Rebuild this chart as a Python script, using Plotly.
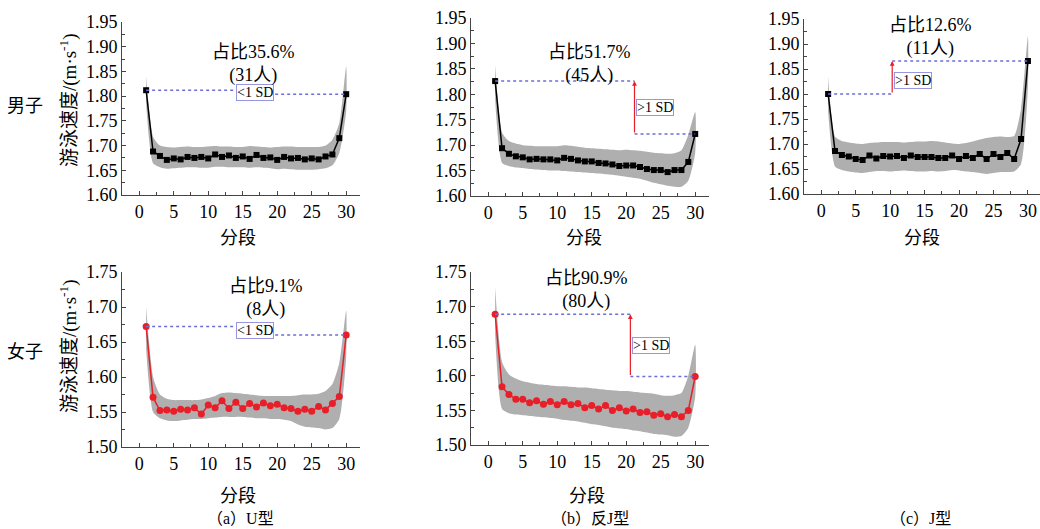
import plotly.graph_objects as go

W, H = 1040, 529
seg = list(range(1, 31))

# ---- data ----
m_u_mean = [1.812, 1.688, 1.679, 1.671, 1.674, 1.672, 1.677, 1.675, 1.677, 1.674,
            1.682, 1.677, 1.680, 1.675, 1.678, 1.673, 1.681, 1.675, 1.676, 1.671,
            1.677, 1.674, 1.675, 1.672, 1.674, 1.672, 1.678, 1.682, 1.715, 1.804]
m_u_upper = [1.840, 1.718, 1.700, 1.697, 1.696, 1.697, 1.698, 1.697, 1.697, 1.698,
             1.699, 1.698, 1.698, 1.697, 1.697, 1.699, 1.698, 1.697, 1.696, 1.697,
             1.698, 1.698, 1.697, 1.697, 1.697, 1.697, 1.700, 1.712, 1.745, 1.860]
m_u_lower = [1.785, 1.664, 1.656, 1.653, 1.654, 1.655, 1.656, 1.656, 1.655, 1.655,
             1.657, 1.657, 1.656, 1.656, 1.656, 1.655, 1.656, 1.655, 1.654, 1.652,
             1.653, 1.652, 1.651, 1.651, 1.651, 1.652, 1.654, 1.660, 1.685, 1.770]

m_rj_mean = [1.826, 1.694, 1.683, 1.678, 1.676, 1.672, 1.673, 1.672, 1.672, 1.670,
             1.675, 1.673, 1.670, 1.668, 1.668, 1.665, 1.664, 1.662, 1.659, 1.660,
             1.660, 1.657, 1.653, 1.651, 1.651, 1.647, 1.651, 1.651, 1.667, 1.722]
m_rj_upper = [1.858, 1.725, 1.708, 1.703, 1.700, 1.699, 1.698, 1.698, 1.698, 1.698,
              1.700, 1.699, 1.697, 1.695, 1.694, 1.693, 1.692, 1.691, 1.690, 1.691,
              1.690, 1.689, 1.687, 1.685, 1.684, 1.683, 1.684, 1.690, 1.720, 1.765]
m_rj_lower = [1.790, 1.665, 1.659, 1.656, 1.655, 1.653, 1.652, 1.651, 1.650, 1.650,
              1.649, 1.648, 1.647, 1.646, 1.645, 1.644, 1.643, 1.642, 1.640, 1.638,
              1.636, 1.634, 1.630, 1.626, 1.623, 1.620, 1.618, 1.618, 1.630, 1.685]

m_j_mean = [1.800, 1.686, 1.678, 1.675, 1.670, 1.668, 1.677, 1.671, 1.676, 1.675,
            1.676, 1.672, 1.677, 1.674, 1.674, 1.674, 1.672, 1.672, 1.677, 1.670,
            1.676, 1.672, 1.680, 1.670, 1.680, 1.674, 1.682, 1.670, 1.710, 1.866]
m_j_upper = [1.835, 1.715, 1.706, 1.703, 1.701, 1.700, 1.702, 1.703, 1.704, 1.704,
             1.704, 1.703, 1.704, 1.705, 1.705, 1.706, 1.705, 1.703, 1.701, 1.700,
             1.702, 1.705, 1.709, 1.712, 1.714, 1.715, 1.714, 1.716, 1.770, 1.915]
m_j_lower = [1.765, 1.655, 1.648, 1.645, 1.643, 1.642, 1.644, 1.646, 1.646, 1.645,
             1.646, 1.647, 1.646, 1.645, 1.645, 1.646, 1.645, 1.646, 1.648, 1.647,
             1.645, 1.644, 1.642, 1.640, 1.642, 1.644, 1.644, 1.645, 1.660, 1.815]

f_u_mean = [1.672, 1.571, 1.552, 1.553, 1.551, 1.554, 1.553, 1.556, 1.547, 1.560,
            1.556, 1.566, 1.555, 1.564, 1.555, 1.562, 1.557, 1.563, 1.559, 1.561,
            1.556, 1.555, 1.551, 1.554, 1.551, 1.558, 1.553, 1.562, 1.572, 1.660]
f_u_upper = [1.700, 1.600, 1.575, 1.569, 1.567, 1.567, 1.567, 1.567, 1.568, 1.570,
             1.573, 1.577, 1.578, 1.577, 1.576, 1.575, 1.574, 1.573, 1.573, 1.573,
             1.573, 1.573, 1.574, 1.575, 1.575, 1.576, 1.580, 1.590, 1.620, 1.695]
f_u_lower = [1.640, 1.550, 1.541, 1.538, 1.537, 1.538, 1.539, 1.540, 1.540, 1.541,
             1.542, 1.543, 1.543, 1.543, 1.543, 1.542, 1.541, 1.541, 1.540, 1.540,
             1.539, 1.537, 1.532, 1.529, 1.528, 1.527, 1.525, 1.527, 1.540, 1.630]

f_rj_mean = [1.689, 1.584, 1.573, 1.566, 1.566, 1.561, 1.564, 1.559, 1.563, 1.558,
             1.563, 1.558, 1.560, 1.554, 1.557, 1.552, 1.557, 1.550, 1.554, 1.549,
             1.552, 1.547, 1.548, 1.543, 1.545, 1.541, 1.544, 1.541, 1.550, 1.599]
f_rj_upper = [1.728, 1.620, 1.602, 1.596, 1.592, 1.590, 1.588, 1.587, 1.586, 1.585,
              1.585, 1.584, 1.583, 1.583, 1.582, 1.581, 1.580, 1.579, 1.578, 1.578,
              1.577, 1.576, 1.575, 1.574, 1.572, 1.571, 1.572, 1.575, 1.600, 1.645]
f_rj_lower = [1.660, 1.552, 1.546, 1.544, 1.543, 1.542, 1.541, 1.540, 1.539, 1.538,
              1.536, 1.535, 1.534, 1.532, 1.530, 1.529, 1.527, 1.525, 1.524, 1.523,
              1.521, 1.520, 1.518, 1.516, 1.515, 1.514, 1.512, 1.513, 1.525, 1.570]

share_texts = ["占比35.6%<br>(31人)", "占比51.7%<br>(45人)", "占比12.6%<br>(11人)",
               "占比9.1%<br>(8人)", "占比90.9%<br>(80人)"]
row_labels = ["男子", "女子"]
captions = ["（a）U型", "（b）反J型", "（c）J型"]
y_title = "游泳速度/(m·s<sup>-1</sup>)"
x_title = "分段"
x_ticks = [0, 5, 10, 15, 20, 25, 30]

SERIF = "Liberation Serif, Noto Sans CJK SC"
CJK = "Noto Sans CJK SC"
BAND = "rgb(175,175,175)"
DOT = "rgb(110,110,215)"
BOXC = "rgb(150,150,225)"
RED = "rgb(232,30,40)"


def px(x):
    return x / W


def py(y):
    return 1 - y / H


panels = [
    dict(mean=m_u_mean, up=m_u_upper, lo=m_u_lower, color="black", sym="square", size=6,
         xd=(122, 360), xr=[-2.5, 32], yd=(22, 195), yr=[1.60, 1.95], yt=[1.60 + 0.05 * i for i in range(8)],
         kind="U", box=(16.8, None), split=None, txt=(253, 64)),
    dict(mean=m_rj_mean, up=m_rj_upper, lo=m_rj_lower, color="black", sym="square", size=6,
         xd=(471, 709), xr=[-2.5, 32], yd=(18, 196), yr=[1.60, 1.95], yt=[1.60 + 0.05 * i for i in range(8)],
         kind="RJ", box=(24.1, None), split=21.2, txt=(589, 64)),
    dict(mean=m_j_mean, up=m_j_upper, lo=m_j_lower, color="black", sym="square", size=6,
         xd=(804, 1040), xr=[-2.5, 31.75], yd=(19, 194), yr=[1.60, 1.95], yt=[1.60 + 0.05 * i for i in range(8)],
         kind="J", box=(13.6, 1.828), split=10.3, txt=(930, 37)),
    dict(mean=f_u_mean, up=f_u_upper, lo=f_u_lower, color=RED, sym="circle", size=7,
         xd=(122, 360), xr=[-2.5, 32], yd=(272, 447), yr=[1.50, 1.75], yt=[1.50 + 0.05 * i for i in range(6)],
         kind="U", box=(16.8, None), split=None, txt=(266, 298)),
    dict(mean=f_rj_mean, up=f_rj_upper, lo=f_rj_lower, color=RED, sym="circle", size=7,
         xd=(471, 709), xr=[-2.5, 32], yd=(272, 445), yr=[1.50, 1.75], yt=[1.50 + 0.05 * i for i in range(6)],
         kind="RJ", box=(24.1, None), split=20.6, txt=(586, 290)),
]

fig = go.Figure()
shapes = []
annotations = []
CT = dict(xanchor="center", yanchor="middle")

for i, p in enumerate(panels):
    n = i + 1
    xa = "x" if n == 1 else f"x{n}"
    ya = "y" if n == 1 else f"y{n}"
    fig.add_trace(go.Scatter(
        x=seg + seg[::-1], y=p["up"] + p["lo"][::-1], fill="toself", fillcolor=BAND,
        line=dict(width=0, shape="spline", smoothing=0.6), mode="lines", hoverinfo="skip",
        showlegend=False, xaxis=xa, yaxis=ya))
    fig.add_trace(go.Scatter(
        x=seg, y=p["mean"], mode="lines+markers",
        line=dict(color=p["color"], width=1.5),
        marker=dict(symbol=p["sym"], size=p["size"], color=p["color"]),
        showlegend=False, xaxis=xa, yaxis=ya))

    axkw = dict(showgrid=False, zeroline=False, showline=True, linecolor="#444", linewidth=1,
                ticks="inside", ticklen=4, tickcolor="#444", automargin=False,
                tickfont=dict(family=SERIF, size=18, color="black"))
    fig.layout[f"xaxis{'' if n == 1 else n}"] = dict(
        domain=[px(p["xd"][0]), px(p["xd"][1])], range=p["xr"], anchor=ya,
        tickvals=x_ticks, minor=dict(dtick=2.5, tick0=0, ticks="inside", ticklen=3, tickcolor="#444"),
        **axkw)
    fig.layout[f"yaxis{'' if n == 1 else n}"] = dict(
        domain=[py(p["yd"][1]), py(p["yd"][0])], range=p["yr"], anchor=xa,
        tickvals=p["yt"], tickformat=".2f",
        minor=dict(dtick=0.025, tick0=p["yr"][0], ticks="inside", ticklen=3, tickcolor="#444"),
        **axkw)

    first, last = p["mean"][0], p["mean"][-1]
    lk = dict(color=DOT, width=1.5, dash="dot")
    if p["kind"] == "U":
        bx = p["box"][0]
        shapes.append(dict(type="line", xref=xa, yref=ya, x0=seg[0], x1=bx - 2.9, y0=first, y1=first, line=lk))
        shapes.append(dict(type="line", xref=xa, yref=ya, x0=bx + 2.9, x1=seg[-1], y0=last, y1=last, line=lk))
        annotations.append(dict(xref=xa, yref=ya, x=bx, y=(first + last) / 2, text="&lt;1 SD",
                                showarrow=False, font=dict(family=SERIF, size=14, color="black"),
                                bordercolor=BOXC, borderwidth=1, borderpad=0, bgcolor="white", **CT))
    else:
        s = p["split"]
        shapes.append(dict(type="line", xref=xa, yref=ya, x0=seg[0], x1=s, y0=first, y1=first, line=lk))
        shapes.append(dict(type="line", xref=xa, yref=ya, x0=s, x1=seg[-1], y0=last, y1=last, line=lk))
        lo_v, hi_v = min(first, last), max(first, last)
        annotations.append(dict(xref=xa, yref=ya, axref=xa, ayref=ya, x=s, y=hi_v, ax=s, ay=lo_v,
                                text="", showarrow=True, arrowhead=2, arrowsize=0.8, arrowwidth=1.2,
                                arrowcolor=RED))
        by = p["box"][1] if p["box"][1] is not None else (first + last) / 2
        annotations.append(dict(xref=xa, yref=ya, x=s + 0.2, y=by, xanchor="left", yanchor="middle",
                                text="&gt;1 SD",
                                showarrow=False, font=dict(family=SERIF, size=14, color="black"),
                                bordercolor=BOXC, borderwidth=1, borderpad=0, bgcolor="white"))
    annotations.append(dict(xref="paper", yref="paper", x=px(p["txt"][0]), y=py(p["txt"][1]),
                            text=share_texts[i], showarrow=False, align="center",
                            font=dict(family=SERIF, size=18, color="black"), **CT))

for (cx, cy) in [(238, 236), (584, 236), (922, 236), (238, 494), (587, 494)]:
    annotations.append(dict(xref="paper", yref="paper", x=px(cx), y=py(cy), text=x_title,
                            showarrow=False, font=dict(family=CJK, size=18, color="black"), **CT))
for cy in [100, 346]:
    annotations.append(dict(xref="paper", yref="paper", x=px(68), y=py(cy), text=y_title, textangle=-90,
                            showarrow=False, font=dict(family=SERIF, size=19, color="black"), **CT))
for lbl, cy in zip(row_labels, [104, 350]):
    annotations.append(dict(xref="paper", yref="paper", x=px(25), y=py(cy), text=lbl,
                            showarrow=False, font=dict(family=CJK, size=18, color="black"), **CT))
for cap, cx in zip(captions, [240, 590, 920]):
    annotations.append(dict(xref="paper", yref="paper", x=px(cx), y=py(518), text=cap,
                            showarrow=False, font=dict(family=SERIF, size=16, color="black"), **CT))

fig.update_layout(width=W, height=H, margin=dict(l=0, r=0, t=0, b=0, pad=0, autoexpand=False),
                  paper_bgcolor="white", plot_bgcolor="white",
                  shapes=shapes, annotations=annotations, showlegend=False)

fig.write_html("out.html", config={"displayModeBar": False},
               post_script="document.body.style.margin='0';document.body.style.overflow='hidden';")
